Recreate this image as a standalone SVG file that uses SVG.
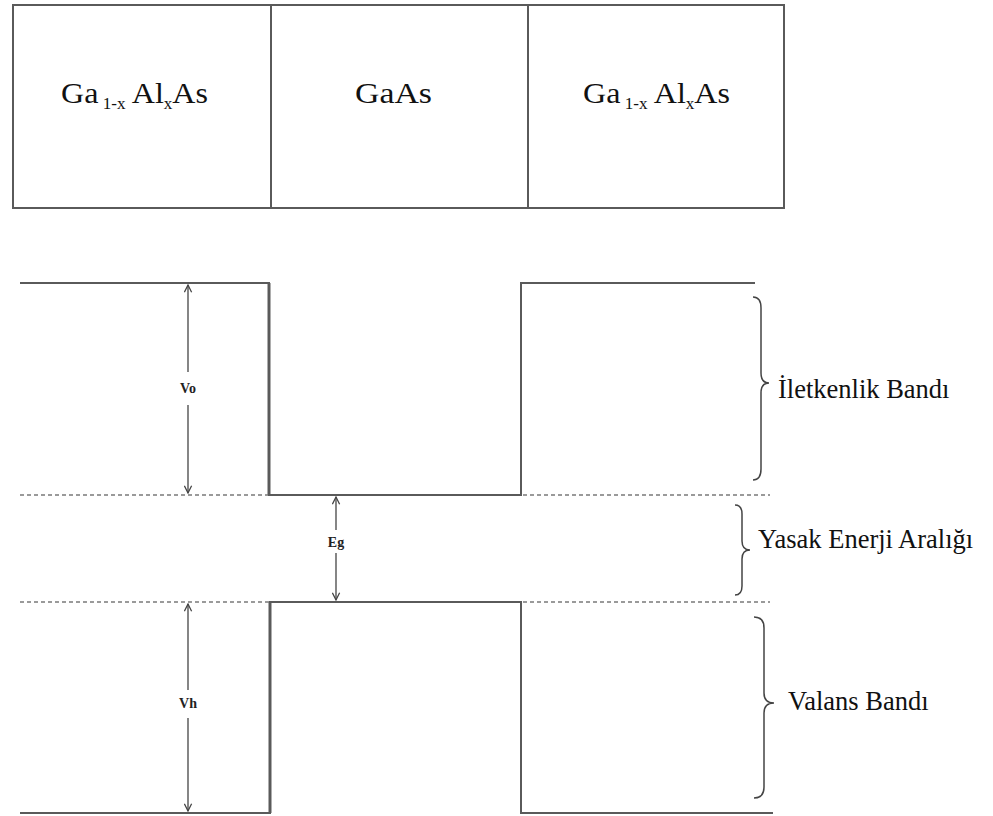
<svg xmlns="http://www.w3.org/2000/svg" width="993" height="816" viewBox="0 0 993 816">
<style>
.ln{stroke:#5a5a5a;stroke-width:2;fill:none}
.thick{stroke:#5a5a5a;stroke-width:3;fill:none}
.dash{stroke:#7a7a7a;stroke-width:1.5;stroke-dasharray:4 3;fill:none}
.arr{stroke:#444;stroke-width:1.3;fill:none}
.br{stroke:#444;stroke-width:1.5;fill:none}
.big{font-family:'Liberation Serif',serif;font-size:30px;fill:#111}
.sub{font-size:16px}
.lab{font-family:'Liberation Serif',serif;font-size:26.5px;fill:#111}
.sm{font-family:'Liberation Serif',serif;font-size:14px;font-weight:bold;fill:#222;text-anchor:middle}
</style>
<defs>
<marker id="ah" viewBox="0 0 10 10" refX="9" refY="5" markerWidth="9" markerHeight="9" orient="auto" markerUnits="userSpaceOnUse">
<path d="M1,1 L9,5 L1,9" stroke="#444" stroke-width="1.4" fill="none"/>
</marker>
</defs>
<rect width="993" height="816" fill="#fff"/>
<g id="layers">
<rect x="13" y="5" width="771" height="203" class="ln"/>
<line x1="271" y1="5" x2="271" y2="208" class="ln"/>
<line x1="528" y1="5" x2="528" y2="208" class="ln"/>
</g>
<g id="label-left"><text class="big" font-family="Liberation Serif" x="61" y="103" textLength="147" lengthAdjust="spacingAndGlyphs">Ga<tspan class="sub" dy="6"> 1-x</tspan><tspan dy="-6"> Al</tspan><tspan class="sub" dy="6">x</tspan><tspan dy="-6">As</tspan></text></g>
<g id="label-mid"><text class="big" font-family="Liberation Serif" x="355" y="103" textLength="77" lengthAdjust="spacingAndGlyphs">GaAs</text></g>
<g id="label-right"><text class="big" font-family="Liberation Serif" x="583" y="103" textLength="147" lengthAdjust="spacingAndGlyphs">Ga<tspan class="sub" dy="6"> 1-x</tspan><tspan dy="-6"> Al</tspan><tspan class="sub" dy="6">x</tspan><tspan dy="-6">As</tspan></text></g>
<g id="bands">
<polyline points="20,283 269,283 269,495 521,495 521,283 755,283" class="ln"/>
<line x1="269" y1="283" x2="269" y2="495" class="thick"/>
<polyline points="20,813 270,813 270,602 521,602 521,813 773,813" class="ln"/>
<line x1="270" y1="602" x2="270" y2="813" class="thick"/>
<line x1="20" y1="495" x2="268" y2="495" class="dash"/>
<line x1="523" y1="495" x2="770" y2="495" class="dash"/>
<line x1="20" y1="602" x2="269" y2="602" class="dash"/>
<line x1="523" y1="602" x2="770" y2="602" class="dash"/>
</g>
<g id="connectors">
<line x1="188" y1="372" x2="188" y2="285" class="arr" marker-end="url(#ah)"/>
<line x1="188" y1="405" x2="188" y2="493" class="arr" marker-end="url(#ah)"/>
<line x1="336" y1="530" x2="336" y2="497" class="arr" marker-end="url(#ah)"/>
<line x1="336" y1="553" x2="336" y2="600" class="arr" marker-end="url(#ah)"/>
<line x1="188" y1="690" x2="188" y2="604" class="arr" marker-end="url(#ah)"/>
<line x1="188" y1="718" x2="188" y2="811" class="arr" marker-end="url(#ah)"/>
</g>
<g id="Vo"><text class="sm" x="188" y="393">Vo</text></g>
<g id="Eg"><text class="sm" x="336" y="547">Eg</text></g>
<g id="Vh"><text class="sm" x="188" y="708">Vh</text></g>
<g id="iletkenlik">
<path class="br" d="M753,297 Q761,297 761,308 L761,373 Q761,383 769,383 Q761,383 761,393 L761,469 Q761,480 753,480"/>
<text class="lab" x="778" y="398">İletkenlik Bandı</text>
</g>
<g id="yasak">
<path class="br" d="M735,505 Q742,505 742,514 L742,541 Q742,550 750,550 Q742,550 742,559 L742,586 Q742,595 735,595"/>
<text class="lab" x="758" y="548">Yasak Enerji Aralığı</text>
</g>
<g id="valans">
<path class="br" d="M754,617 Q764,617 764,628 L764,693 Q764,703 774,703 Q764,703 764,713 L764,787 Q764,798 754,798"/>
<text class="lab" x="788" y="710">Valans Bandı</text>
</g>
</svg>
